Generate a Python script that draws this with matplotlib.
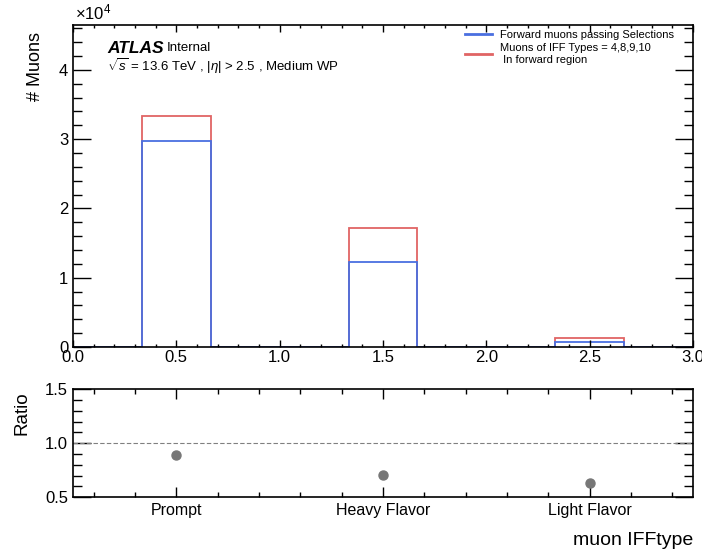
import matplotlib
matplotlib.use("Agg")
import matplotlib.pyplot as plt
import numpy as np
from matplotlib.ticker import MultipleLocator, FixedLocator, FuncFormatter

plt.rcParams['font.family'] = ['Liberation Sans', 'DejaVu Sans']
plt.rcParams['mathtext.fontset'] = 'custom'
plt.rcParams['mathtext.rm'] = 'Liberation Sans'
plt.rcParams['mathtext.it'] = 'Liberation Sans:italic'

# ---- data ----
categories = ["Prompt", "Heavy Flavor", "Light Flavor"]
cat_centers = [0.5, 1.5, 2.5]
selected_counts = [29770, 12280, 790]     # Forward muons passing Selections
iff_counts = [33380, 17200, 1250]         # Muons of IFF Types = 4,8,9,10 in forward region
ratio_values = [0.89, 0.71, 0.63]

n_bins = 9
edges = np.linspace(0, 3, n_bins + 1)
blue_vals = np.zeros(n_bins)
red_vals = np.zeros(n_bins)
for c, b, r in zip(cat_centers, selected_counts, iff_counts):
    idx = int(np.searchsorted(edges, c) - 1)
    blue_vals[idx] = b
    red_vals[idx] = r

blue = '#4a6fe0'
red = '#e06464'

fig = plt.figure(figsize=(7.02, 5.53), dpi=100)
ax = fig.add_axes([0.104, 0.3725, 0.883, 0.5825])
axr = fig.add_axes([0.104, 0.101, 0.883, 0.195])

ax.stairs(red_vals, edges, color=red, lw=1.3)
ax.stairs(blue_vals, edges, color=blue, lw=1.3)
ax.set_xlim(0, 3)
ax.set_ylim(0, 46500)

ax.xaxis.set_major_locator(MultipleLocator(0.5))
ax.xaxis.set_minor_locator(MultipleLocator(0.1))
ax.yaxis.set_major_locator(MultipleLocator(10000))
ax.yaxis.set_minor_locator(MultipleLocator(2000))
ax.yaxis.set_major_formatter(FuncFormatter(lambda v, p: f"{v/1e4:g}"))
ax.xaxis.set_major_formatter(FuncFormatter(lambda v, p: f"{v:.1f}"))
ax.tick_params(axis='both', which='both', direction='in', top=True, right=True, labelsize=12, width=1.0)
ax.tick_params(axis='y', which='major', length=13)
ax.tick_params(axis='y', which='minor', length=6.5)
ax.tick_params(axis='x', which='major', length=5)
ax.tick_params(axis='x', which='minor', length=2.5)
ax.tick_params(axis='x', pad=2)
for s in ax.spines.values():
    s.set_linewidth(1.2)

fig.text(0.107, 0.977, r"$\times$10$^{4}$", fontsize=12, ha='left', va='center')
fig.text(0.05, 0.942, "# Muons", rotation=90, fontsize=13, ha='center', va='top')

ax.text(0.055, 0.928, "ATLAS", transform=ax.transAxes, fontsize=12.5, fontweight='bold', fontstyle='italic', va='center')
ax.text(0.152, 0.928, "Internal", transform=ax.transAxes, fontsize=9.5, va='center')
ax.text(0.055, 0.873, r"$\sqrt{s}$ = 13.6 TeV , $|\eta|$ > 2.5 , Medium WP", transform=ax.transAxes, fontsize=9.5, va='center')

leg = ax.legend([plt.Line2D([], [], color=blue, lw=2), plt.Line2D([], [], color=red, lw=2)],
                ["Forward muons passing Selections", "Muons of IFF Types = 4,8,9,10\n In forward region"],
                loc='upper right', bbox_to_anchor=(0.985, 1.015), frameon=False, fontsize=8,
                handlelength=2.4, handletextpad=0.7, labelspacing=0.3)

# ratio panel
axr.axhline(1.0, color='gray', ls=(0, (4, 2)), lw=0.8)
axr.plot(cat_centers, ratio_values, 'o', color='#777777', ms=6.5)
axr.set_xlim(0, 3)
axr.set_ylim(0.5, 1.5)
axr.set_xticks(cat_centers)
axr.set_xticklabels(categories)
axr.xaxis.set_minor_locator(FixedLocator([0.1, 0.3, 0.7, 0.9, 1.1, 1.3, 1.7, 1.9, 2.1, 2.3, 2.7, 2.9]))
axr.yaxis.set_major_locator(MultipleLocator(0.5))
axr.yaxis.set_minor_locator(MultipleLocator(0.1))
axr.yaxis.set_major_formatter(FuncFormatter(lambda v, p: f"{v:.1f}"))
axr.tick_params(axis='both', which='both', direction='in', top=True, right=True, labelsize=12, width=1.0)
axr.tick_params(axis='x', which='major', length=7)
axr.tick_params(axis='x', which='minor', length=3.5)
axr.tick_params(axis='y', which='major', length=13)
axr.tick_params(axis='y', which='minor', length=6.5)
axr.tick_params(axis='x', labelsize=11.5, pad=4)
for s in axr.spines.values():
    s.set_linewidth(1.2)

fig.text(0.032, 0.292, "Ratio", rotation=90, fontsize=13.5, ha='center', va='top')
fig.text(0.987, 0.022, "muon IFFtype", fontsize=14, ha='right', va='center')

fig.savefig("out.png", dpi=100)
